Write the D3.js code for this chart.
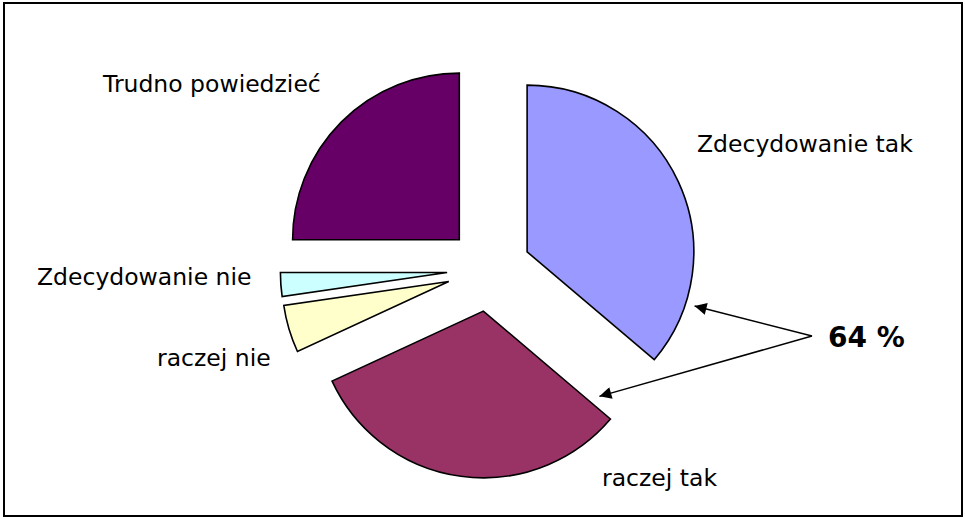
<!DOCTYPE html>
<html>
<head>
<meta charset="utf-8">
<script src="https://cdn.jsdelivr.net/npm/d3@7"></script>
<style>
  body { margin: 0; background: #fff; }
  text { font-family: "DejaVu Sans", Verdana, sans-serif; fill: #000; }
</style>
</head>
<body>
<svg></svg>
<script>
// answer categories, clockwise from 12 o'clock
const categories = ['Zdecydowanie tak', 'raczej tak', 'raczej nie', 'Zdecydowanie nie', 'Trudno powiedzieć'];
// share of answers (%)
const values = [36.2, 31.9, 4.6, 2.3, 25.0];
const colors = ['#9999FF', '#993366', '#FFFFCC', '#CCFFFF', '#660066'];
// combined "tak" callout
const calloutText = '64 %';
const calloutSlices = ['Zdecydowanie tak', 'raczej tak'];

const size = {w: 965, h: 519};
const center = {x: 489, y: 269.5};
const radius = 166.7;
const explode = 42;

// label anchors (start of text, baseline)
const labelPos = {
    'Zdecydowanie tak': [697, 152],
    'raczej tak': [602, 486],
    'raczej nie': [157, 366],
    'Zdecydowanie nie': [37, 285],
    'Trudno powiedzieć': [103, 92]
};

const svg = d3.select('svg')
    .attr('width', size.w)
    .attr('height', size.h);

// outer frame
svg.append('rect')
    .attr('x', 4).attr('y', 3)
    .attr('width', 958).attr('height', 513)
    .attr('fill', 'none')
    .attr('stroke', '#000')
    .attr('stroke-width', 2);

const data = categories.map((c, i) => ({name: c, value: values[i], color: colors[i]}));

const pie = d3.pie()
    .sort(null)
    .value(d => d.value);

const arc = d3.arc()
    .innerRadius(0)
    .outerRadius(radius);

const arcs = pie(data);

const g = svg.append('g')
    .attr('transform', 'translate(' + center.x + ',' + center.y + ')');

// every slice pulled out along its bisector
function offset(d) {
    let a = (d.startAngle + d.endAngle) / 2;
    return [Math.sin(a) * explode, -Math.cos(a) * explode];
}

g.selectAll('path')
    .data(arcs)
    .enter()
    .append('path')
    .attr('d', arc)
    .attr('transform', d => 'translate(' + offset(d) + ')')
    .attr('fill', d => d.data.color)
    .attr('stroke', '#000')
    .attr('stroke-width', 1.6)
    .attr('stroke-linejoin', 'miter');

// category labels
svg.selectAll('text.label')
    .data(data)
    .enter()
    .append('text')
    .classed('label', true)
    .attr('x', d => labelPos[d.name][0])
    .attr('y', d => labelPos[d.name][1])
    .style('font-size', '23.5px')
    .text(d => d.name);

// arrowhead marker
svg.append('defs').append('marker')
    .attr('id', 'head')
    .attr('viewBox', '0 0 10 10')
    .attr('refX', 10).attr('refY', 5)
    .attr('markerWidth', 17).attr('markerHeight', 12)
    .attr('markerUnits', 'userSpaceOnUse')
    .attr('orient', 'auto')
    .append('path')
    .attr('d', 'M0,0L10,5L0,10z')
    .attr('fill', '#000');

// arrow tips placed relative to each exploded slice (angle from 12 o'clock, distance)
const origin = [812, 336];
const tipAngle = {'Zdecydowanie tak': 107.9, 'raczej tak': 126.3};
const tipRadius = {'Zdecydowanie tak': 176, 'raczej tak': 144};
calloutSlices.forEach(name => {
    let d = arcs.find(a => a.data.name === name);
    let o = offset(d);
    let a = tipAngle[name] * Math.PI / 180;
    let tx = center.x + o[0] + Math.sin(a) * tipRadius[name];
    let ty = center.y + o[1] - Math.cos(a) * tipRadius[name];
    svg.append('line')
        .attr('x1', origin[0]).attr('y1', origin[1])
        .attr('x2', tx).attr('y2', ty)
        .attr('stroke', '#000')
        .attr('stroke-width', 1.5)
        .attr('marker-end', 'url(#head)');
});

svg.append('text')
    .attr('x', 828)
    .attr('y', 347)
    .style('font-size', '28px')
    .style('font-weight', 'bold')
    .text(calloutText);
</script>
</body>
</html>
